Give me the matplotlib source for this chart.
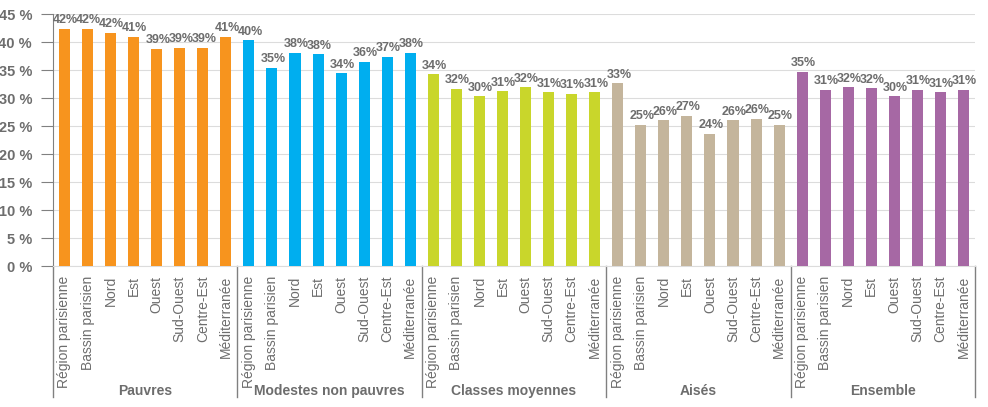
import matplotlib.pyplot as plt
import matplotlib.transforms as mtransforms
import numpy as np

plt.rcParams['font.family'] = ['Liberation Sans', 'DejaVu Sans']

regions = ['Région parisienne', 'Bassin parisien', 'Nord', 'Est',
           'Ouest', 'Sud-Ouest', 'Centre-Est', 'Méditerranée']
groups = ['Pauvres', 'Modestes non pauvres', 'Classes moyennes', 'Aisés', 'Ensemble']

pauvres = [42.4, 42.4, 41.6, 40.9, 38.8, 38.9, 39.0, 40.9]
modestes = [40.3, 35.4, 38.1, 37.8, 34.4, 36.4, 37.3, 38.1]
moyennes = [34.2, 31.6, 30.3, 31.2, 31.9, 31.0, 30.8, 31.0]
aises = [32.6, 25.2, 26.0, 26.8, 23.6, 26.0, 26.3, 25.2]
ensemble = [34.6, 31.4, 31.9, 31.7, 30.3, 31.4, 31.0, 31.4]

series = [pauvres, modestes, moyennes, aises, ensemble]
colors = ['#F7941E', '#00AEEF', '#C9D62B', '#C4B59C', '#A668A4']

grey = '#6d6d6d'

fig = plt.figure(figsize=(9.88, 4.07), dpi=100)
ax = fig.add_axes([0.0536, 0.3464, 0.9333, 0.6192])

n = len(regions)
for g, (vals, col) in enumerate(zip(series, colors)):
    x = np.arange(n) + g * n
    ax.bar(x, vals, width=0.48, color=col, zorder=3)
    for xi, v in zip(x, vals):
        ax.annotate(f'{round(v):d}%', (xi + 0.05, v), xytext=(0, 2),
                    textcoords='offset points', ha='center', va='bottom',
                    fontsize=9, fontweight='bold', color=grey, zorder=4)

total = n * len(groups)
ax.set_xlim(-0.5, total - 0.5)
ax.set_ylim(0, 45)
ax.set_yticks(np.arange(0, 46, 5))
ax.set_yticklabels([f'{t} %' for t in range(0, 46, 5)], fontsize=10.5,
                   fontweight='bold', color=grey)
ax.tick_params(axis='y', length=9, color='#808080', pad=6)
ax.grid(axis='y', color='#dcdcdc', linewidth=0.8, zorder=0)

ax.set_xticks(np.arange(total))
ax.set_xticklabels(regions * len(groups), rotation=90, fontsize=10, color=grey)
ax.tick_params(axis='x', length=0, pad=7)

for s in ['top', 'right']:
    ax.spines[s].set_visible(False)
ax.spines['left'].set_color('#808080')
ax.spines['bottom'].set_color('#dcdcdc')

trans = mtransforms.blended_transform_factory(ax.transData, ax.transAxes)
for g in range(len(groups) + 1):
    xs = g * n - 0.5
    ax.plot([xs, xs], [0, -0.52], transform=trans, color='#808080',
            linewidth=1, clip_on=False)
for g, name in enumerate(groups):
    ax.text(g * n + (n - 1) / 2, -0.495, name, transform=trans, ha='center',
            va='center', fontsize=10, fontweight='bold', color=grey)

fig.savefig('out.png', dpi=100)
